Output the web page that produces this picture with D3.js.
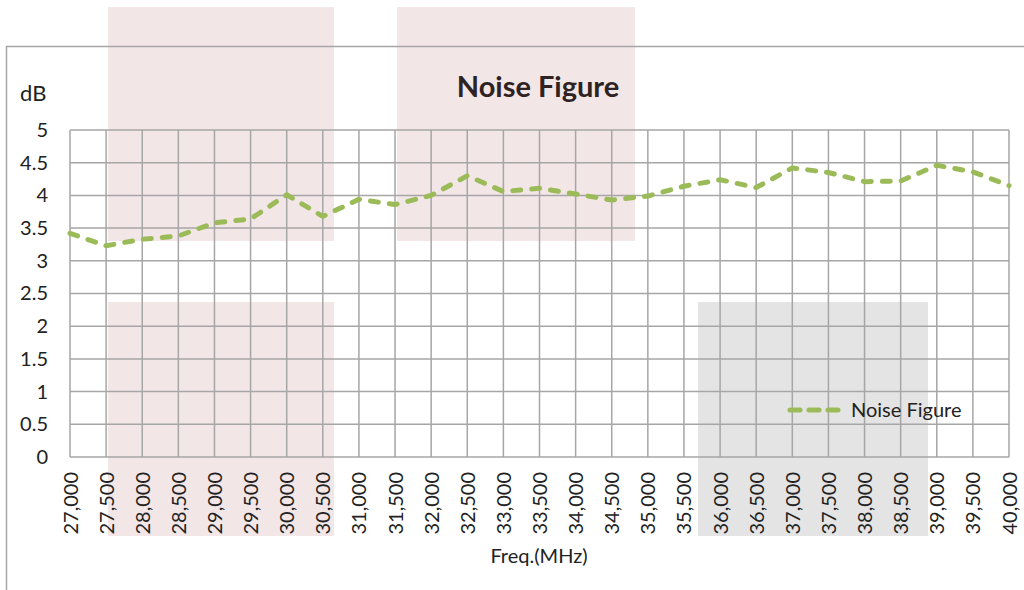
<!DOCTYPE html>
<html>
<head>
<meta charset="utf-8">
<script src="https://cdn.jsdelivr.net/npm/d3@7"></script>
<style>
  body { margin: 0; background: #fff; }
  text { font-family: Lato, "Open Sans", sans-serif; fill: #222; }
</style>
</head>
<body>
<svg id="chart" width="1024" height="590"></svg>
<script>
// frequency in MHz
const freqs = [27000, 27500, 28000, 28500, 29000, 29500, 30000, 30500, 31000, 31500, 32000, 32500, 33000,
  33500, 34000, 34500, 35000, 35500, 36000, 36500, 37000, 37500, 38000, 38500, 39000, 39500, 40000];
// noise figure in dB
const noiseFigure = [3.42, 3.23, 3.33, 3.38, 3.58, 3.64, 4.01, 3.68, 3.94, 3.86, 4.0, 4.3, 4.06,
  4.11, 4.02, 3.93, 3.99, 4.14, 4.24, 4.12, 4.42, 4.35, 4.21, 4.22, 4.46, 4.36, 4.15];
const yTicks = [0, 0.5, 1, 1.5, 2, 2.5, 3, 3.5, 4, 4.5, 5];
const seriesName = 'Noise Figure';

const svg = d3.select('#chart');
const m = { left: 70, right: 1009, top: 130, bottom: 457 };

// shaded boxes laid over the picture (pixels)
const boxes = [
  { x: 108, y: 7, w: 226, h: 234, c: '#f3e6e7' },
  { x: 108, y: 302, w: 226, h: 234, c: '#f3e6e7' },
  { x: 397, y: 7, w: 238, h: 234, c: '#f3e6e7' },
  { x: 698, y: 302, w: 230, h: 234, c: '#e4e4e4' },
];
svg.selectAll('rect.box').data(boxes).join('rect').classed('box', true)
  .attr('x', d => d.x).attr('y', d => d.y).attr('width', d => d.w).attr('height', d => d.h)
  .attr('fill', d => d.c);

// outer chart border
svg.append('rect').attr('x', 6.5).attr('y', 46.5).attr('width', 1100).attr('height', 600)
  .attr('fill', 'none').attr('stroke', '#a6a6a6').attr('stroke-width', 1.5);

const x = d3.scaleLinear([27000, 40000], [m.left, m.right]);
const y = d3.scaleLinear([0, 5], [m.bottom, m.top]);

// grid
svg.append('g').selectAll('line').data(freqs).join('line')
  .attr('x1', d => x(d)).attr('x2', d => x(d)).attr('y1', m.top).attr('y2', m.bottom)
  .attr('stroke', '#a6a6a6').attr('stroke-width', 1.5);
svg.append('g').selectAll('line').data(yTicks).join('line')
  .attr('x1', m.left).attr('x2', m.right).attr('y1', d => y(d)).attr('y2', d => y(d))
  .attr('stroke', '#a6a6a6').attr('stroke-width', 1.5);

// y axis labels
const yAxis = svg.append('g').attr('transform', `translate(${m.left},0)`)
  .call(d3.axisLeft(y).tickValues(yTicks).tickSize(0).tickPadding(22).tickFormat(d3.format('')));
yAxis.select('.domain').remove();
yAxis.attr('font-size', 20).attr('font-family', null);
yAxis.selectAll('text').attr('fill', '#222');

// x axis labels
const xAxis = svg.append('g').attr('transform', `translate(0,${m.bottom})`)
  .call(d3.axisBottom(x).tickValues(freqs).tickSize(0).tickFormat(d3.format(',')));
xAxis.select('.domain').remove();
xAxis.attr('font-size', 20).attr('font-family', null);
xAxis.selectAll('text')
  .attr('fill', '#222')
  .attr('transform', 'rotate(-90)')
  .attr('x', -15).attr('y', 0).attr('dy', '0.35em')
  .style('text-anchor', 'end');

// line
const line = d3.line().x((d, i) => x(freqs[i])).y(d => y(d));
svg.append('path').datum(noiseFigure)
  .attr('d', line).attr('fill', 'none')
  .attr('stroke', '#9bbb59').attr('stroke-width', 5)
  .attr('stroke-dasharray', '8,11').attr('stroke-linecap', 'round').attr('stroke-linejoin', 'round');

// title and axis titles
svg.append('text').attr('x', 538).attr('y', 97).attr('text-anchor', 'middle')
  .attr('font-size', 29).attr('font-weight', 'bold').style('fill', '#2e2222').text(seriesName);
svg.append('text').attr('x', 20).attr('y', 101).attr('font-size', 22).text('dB');
svg.append('text').attr('x', 539).attr('y', 563).attr('text-anchor', 'middle')
  .attr('font-size', 20).text('Freq.(MHz)');

// legend
const leg = svg.append('g').attr('transform', 'translate(790,410)');
leg.append('line').attr('x1', 0).attr('x2', 48).attr('y1', 0).attr('y2', 0)
  .attr('stroke', '#9bbb59').attr('stroke-width', 5)
  .attr('stroke-dasharray', '10,9').attr('stroke-linecap', 'round');
leg.append('text').attr('x', 61).attr('y', 7).attr('font-size', 20).text(seriesName);
</script>
</body>
</html>
